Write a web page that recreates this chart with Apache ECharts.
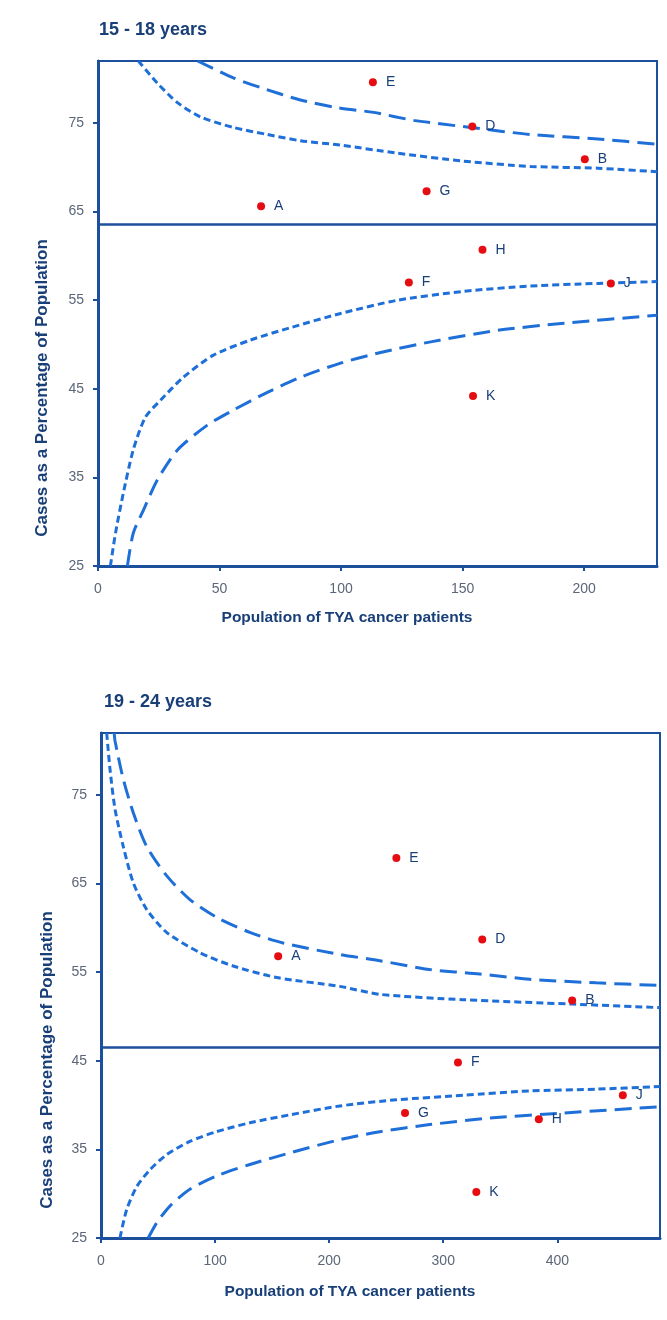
<!DOCTYPE html>
<html>
<head>
<meta charset="utf-8">
<script src="https://cdn.jsdelivr.net/npm/echarts@6/dist/echarts.min.js"></script>
<style>
  html, body { margin: 0; padding: 0; background: #fff; }
  #chart { width: 667px; height: 1320px; }
</style>
</head>
<body>
<div id="chart"></div>
<script>
// chart data
const panelTitles = ["15 - 18 years", "19 - 24 years"];
const xMax = [230, 490];
const xInterval = [50, 100];
const yTicks = [25, 35, 45, 55, 65, 75];
const centreLine = [63.6, 46.5];

const regionNames = ["A", "B", "D", "E", "F", "G", "H", "J", "K"];
const teenPop = [67.1, 200.3, 154.0, 113.1, 127.9, 135.2, 158.2, 211.0, 154.3];
const teenPct = [65.6, 70.9, 74.6, 79.6, 57.0, 67.3, 60.7, 56.9, 44.2];
const youngPop = [155.3, 413.0, 334.2, 258.9, 312.9, 266.5, 383.8, 457.4, 329.0];
const youngPct = [56.8, 51.8, 58.7, 67.9, 44.8, 39.1, 38.4, 41.1, 30.2];

// control limits: [population, percent]
const teen95Upper = [[16.6, 82], [24.4, 79.5], [32.7, 77.3], [42.1, 75.7], [55.7, 74.5], [69.7, 73.7], [83.3, 73.0], [100, 72.5], [123, 71.6], [150.4, 70.7], [178, 70.1], [205.7, 69.9], [230, 69.5]];
const teen95Lower = [[5.1, 25], [7.2, 28.7], [10.4, 33.2], [14.5, 38.1], [19.5, 41.8], [25.7, 43.7], [35.1, 46.3], [47.5, 48.8], [62.7, 50.5], [79.2, 51.9], [99.8, 53.5], [123.3, 55.0], [150.5, 56.0], [178, 56.6], [205.7, 56.9], [230, 57.1]];
const teen998Upper = [[41, 82], [55.7, 80.1], [66.9, 79.0], [83.3, 77.6], [99, 76.7], [113.4, 76.2], [129.9, 75.3], [153.3, 74.5], [178, 73.7], [205.7, 73.2], [230, 72.6]];
const teen998Lower = [[12.1, 25], [14.5, 28.7], [18.7, 31.3], [24.4, 34.7], [32.7, 38.1], [45, 40.9], [55.7, 42.6], [69.7, 44.6], [83.3, 46.3], [99.8, 47.9], [116.3, 49.1], [136.9, 50.3], [164.5, 51.6], [191.7, 52.4], [230, 53.3]];

const young95Upper = [[5, 82], [7.9, 77.9], [12.3, 73.4], [19.5, 69.2], [28.3, 65.1], [40, 62.1], [57.5, 59.5], [86.7, 57.2], [115.9, 55.7], [153.9, 54.4], [209.3, 53.4], [244.3, 52.5], [317, 51.9], [413, 51.4], [490, 51.0]];
const young95Lower = [[16.6, 25], [22.5, 28.2], [31.3, 30.8], [42.9, 32.7], [57.5, 34.4], [77.9, 35.9], [101.3, 37.0], [130.5, 38.0], [165.5, 38.9], [209.3, 39.9], [258.9, 40.6], [317.3, 41.1], [375.7, 41.6], [434, 41.8], [490, 42.1]];
const young998Upper = [[11.6, 82], [12.3, 81.1], [19.5, 76.8], [28.3, 73.0], [40, 69.2], [57.5, 65.9], [77.9, 63.2], [101.3, 61.2], [130.5, 59.5], [159.6, 58.3], [209.3, 57.0], [244.3, 56.3], [288.1, 55.3], [331.9, 54.8], [375.7, 54.2], [434, 53.8], [490, 53.5]];
const young998Lower = [[41.4, 25], [48.8, 26.7], [60.4, 28.6], [77.9, 30.5], [101.3, 32.0], [130.5, 33.3], [165.5, 34.6], [209.3, 36.1], [244.3, 37.0], [288.1, 37.8], [346.5, 38.6], [404.8, 39.1], [488, 39.8]];

const axisColor = "#1c4f9c";
const curveColor = "#1f6fd8";
const navy = "#193f78";
const font = "Liberation Sans, Arial, sans-serif";

const chart = echarts.init(document.getElementById("chart"));

function pointSeries(i, xs, ys) {
  return {
    type: "scatter",
    xAxisIndex: i,
    yAxisIndex: i,
    z: 5,
    symbolSize: 8,
    itemStyle: { color: "#e60d12", opacity: 1 },
    label: {
      show: true,
      position: "right",
      distance: 9,
      formatter: "{b}",
      color: navy,
      fontSize: 14,
      fontFamily: font,
    },
    data: regionNames.map((n, k) => ({ name: n, value: [xs[k], ys[k]] })),
    markLine: {
      silent: true,
      symbol: "none",
      label: { show: false },
      lineStyle: { color: axisColor, width: 2.5, type: "solid" },
      data: [{ yAxis: centreLine[i] }],
    },
  };
}

function limitSeries(i, data, dash) {
  return {
    type: "line",
    xAxisIndex: i,
    yAxisIndex: i,
    z: 3,
    data: data,
    showSymbol: false,
    smooth: 0.25,
    lineStyle: { color: curveColor, width: 3, type: dash },
  };
}

const shortDash = [7, 4];
const longDash = [17, 8];

function xAxis(i) {
  return {
    type: "value",
    gridIndex: i,
    min: 0,
    max: xMax[i],
    interval: xInterval[i],
    axisLine: { show: true, lineStyle: { color: axisColor, width: 3 } },
    axisTick: { show: true, length: 5, lineStyle: { color: axisColor, width: 2 } },
    axisLabel: { color: "#5c6679", fontSize: 14, fontFamily: font, margin: 16, showMaxLabel: false },
    splitLine: { show: false },
  };
}

function yAxis(i) {
  return {
    type: "value",
    gridIndex: i,
    min: yTicks[0],
    max: 82,
    interval: yTicks[1] - yTicks[0],
    axisLine: { show: true, lineStyle: { color: axisColor, width: 3 } },
    axisTick: { show: true, length: 5, lineStyle: { color: axisColor, width: 2 } },
    axisLabel: { color: "#5c6679", fontSize: 14, fontFamily: font, margin: 14, showMaxLabel: false },
    splitLine: { show: false },
  };
}

function axisName(text, x, y, rotate) {
  return {
    type: "text",
    x: x,
    y: y,
    rotation: rotate ? Math.PI / 2 : 0,
    style: {
      text: text,
      fill: navy,
      fontSize: rotate ? 17 : 15.5,
      fontWeight: "bold",
      fontFamily: font,
      textAlign: "center",
      verticalAlign: "middle",
    },
  };
}

chart.setOption({
  animation: false,
  title: panelTitles.map((t, i) => ({
    text: t,
    left: i === 0 ? 99 : 104,
    top: i === 0 ? 21 : 693,
    padding: 0,
    textStyle: { color: navy, fontSize: 18, fontWeight: "bold", fontFamily: font },
  })),
  grid: [
    { left: 98, top: 61, width: 559, height: 505, show: true, borderColor: axisColor, borderWidth: 2 },
    { left: 101, top: 733, width: 559, height: 505, show: true, borderColor: axisColor, borderWidth: 2 },
  ],
  xAxis: [xAxis(0), xAxis(1)],
  yAxis: [yAxis(0), yAxis(1)],
  graphic: [
    axisName("Cases as a Percentage of Population", 42, 388, true),
    axisName("Population of TYA cancer patients", 347, 618, false),
    axisName("Cases as a Percentage of Population", 47, 1060, true),
    axisName("Population of TYA cancer patients", 350, 1292, false),
  ],
  series: [
    limitSeries(0, teen95Upper, shortDash),
    limitSeries(0, teen95Lower, shortDash),
    limitSeries(0, teen998Upper, longDash),
    limitSeries(0, teen998Lower, longDash),
    pointSeries(0, teenPop, teenPct),
    limitSeries(1, young95Upper, shortDash),
    limitSeries(1, young95Lower, shortDash),
    limitSeries(1, young998Upper, longDash),
    limitSeries(1, young998Lower, longDash),
    pointSeries(1, youngPop, youngPct),
  ],
});
</script>
</body>
</html>
